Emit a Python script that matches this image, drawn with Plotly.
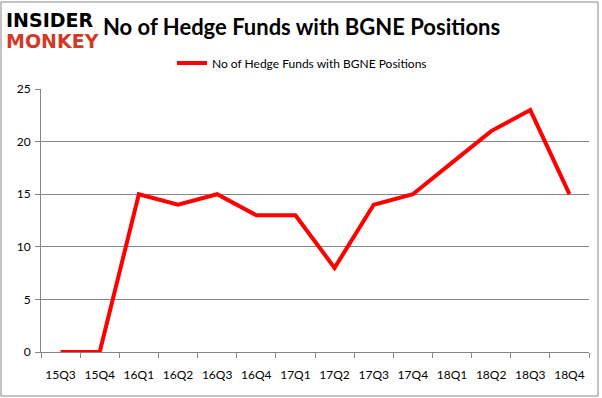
import plotly.graph_objects as go

quarters = ["15Q3", "15Q4", "16Q1", "16Q2", "16Q3", "16Q4", "17Q1", "17Q2",
            "17Q3", "17Q4", "18Q1", "18Q2", "18Q3", "18Q4"]
funds = [0, 0, 15, 14, 15, 13, 13, 8, 14, 15, 18, 21, 23, 15]
series_name = "No of Hedge Funds with BGNE Positions"
title_text = "No of Hedge Funds with BGNE Positions"

W, H = 602, 398
ml, mr, mt, mb = 41, 13, 89, 46
pw = W - ml - mr
ph = H - mt - mb

def px(x):
    return (x - ml) / pw

def py(y):
    return (H - mb - y) / ph

fig = go.Figure()
fig.add_trace(go.Scatter(x=quarters, y=funds, mode="lines", name=series_name,
                         line=dict(color="#FF0000", width=4)))

fig.update_layout(
    width=W, height=H,
    margin=dict(l=ml, r=mr, t=mt, b=mb, autoexpand=False),
    paper_bgcolor="white", plot_bgcolor="white",
    font=dict(family="Lato, Carlito, sans-serif", color="black", size=12),
    showlegend=True,
    legend=dict(orientation="h", x=px(172), y=py(63), xanchor="left", yanchor="middle",
                font=dict(size=12), bgcolor="rgba(0,0,0,0)", itemwidth=30),
    xaxis=dict(type="category", range=[-0.5, len(quarters) - 0.5], showgrid=False,
               showline=True, linecolor="#868686", tickangle=0,
               ticks="outside", ticklen=5, tickcolor="#868686", tickson="boundaries",
               ticklabelstandoff=12, tickfont=dict(size=12)),
    yaxis=dict(range=[0, 25], dtick=5, showgrid=True, gridcolor="#868686", gridwidth=1,
               zeroline=False, showline=True, linecolor="#868686", ticks="outside", ticklen=5,
               tickcolor="#868686", tickfont=dict(size=12), ticklabelstandoff=2),
    shapes=[dict(type="rect", xref="paper", yref="paper",
                 x0=px(1), x1=px(598), y0=py(396), y1=py(2),
                 line=dict(color="#868686", width=1), fillcolor="rgba(0,0,0,0)", layer="below")],
    annotations=[
        dict(text="<b>" + title_text + "</b>", xref="paper", yref="paper",
             x=px(301), y=py(27), xanchor="center", yanchor="middle", showarrow=False,
             font=dict(size=22, family="Lato, Carlito, sans-serif", color="black")),
        dict(text="<b>INSIDER</b>", xref="paper", yref="paper",
             x=px(4), y=py(20), xanchor="left", yanchor="middle", showarrow=False,
             font=dict(size=19, family="DejaVu Sans", color="black")),
        dict(text="<b>MONKEY</b>", xref="paper", yref="paper",
             x=px(4), y=py(41), xanchor="left", yanchor="middle", showarrow=False,
             font=dict(size=19, family="DejaVu Sans", color="#D13B26")),
    ],
)

fig.write_html("out.html", config={"displayModeBar": False},
               post_script="document.body.style.margin='0';")
